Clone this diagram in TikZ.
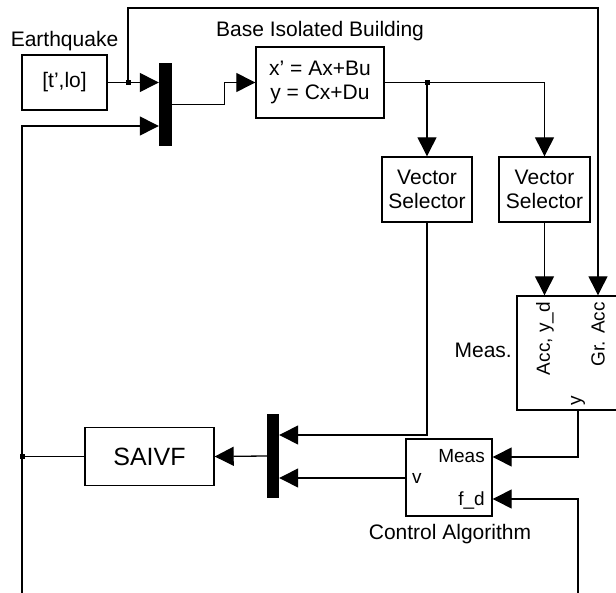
\documentclass[tikz,border=0pt]{standalone}
\usepackage{fontspec}
\setmainfont{Liberation Sans}
\usetikzlibrary{positioning,arrows.meta,calc}

\begin{document}
\begin{tikzpicture}[
  x=1pt, y=-1pt,
  font=\fontsize{21}{24}\selectfont,
  blk/.style={draw, line width=1.4pt, inner sep=0pt, align=center},
  muxbar/.style={fill=black, draw=none, inner sep=0pt, minimum width=13pt, minimum height=83pt},
  port/.style={font=\fontsize{19}{22}\selectfont, inner sep=0pt},
  lab/.style={inner sep=0pt},
  arr/.style={-{Triangle[length=19pt, width=19pt]}, line width=1.3pt},
  wire/.style={line width=1.3pt},
  dot/.style={fill=black, inner sep=0pt, minimum size=5pt}
]
\useasboundingbox (0,0) rectangle (616,593);
% ----- top row: source, mux, plant -----
\node[blk, minimum width=85pt, minimum height=55pt] (quake) at (64.5,82.5) {[t',lo]};
\node[lab, anchor=base] (quakelab) at (64.5,47) {Earthquake};
\node[muxbar] (mux1) at (165.5,104.5) {};
\node[blk, minimum width=128pt, minimum height=71pt] (bldg) at (320,82.5) {x' = Ax+Bu\\y = Cx+Du};
\node[lab, anchor=base] (bldglab) at (320,37) {Base Isolated Building};
% ----- selectors and measurement block -----
\node[blk, minimum width=90pt, minimum height=65pt] (vsel1) at (427,189.5) {Vector\\Selector};
\node[blk, minimum width=91pt, minimum height=65pt] (vsel2) at (544.5,189.5) {Vector\\Selector};
\node[blk, minimum width=113pt, minimum height=114pt] (meas) at (573.5,353) {};
\node[lab, anchor=base east] (measlab) at (512,358) {Meas.};
\node[port, rotate=90, anchor=east] (pacclab) at (545,302) {Acc, y\_d};
\node[port, rotate=90, anchor=east] (pgrlab) at (598,302) {Gr. Acc};
\node[port, rotate=90, anchor=west] (pylab) at (578,406) {y};
% ----- controller, mux, damper -----
\node[blk, minimum width=86pt, minimum height=77pt] (ctrl) at (449,477.5) {};
\node[port, anchor=base east] (pmeaslab) at (485,463) {Meas};
\node[port, anchor=base east] (pfdlab) at (485,505) {f\_d};
\node[port, anchor=base west] (pvlab) at (412,483) {v};
\node[lab, anchor=base] (ctrllab) at (450,539) {Control Algorithm};
\node[muxbar, minimum width=12pt, minimum height=84pt] (mux2) at (273,456) {};
\node[blk, minimum width=129pt, minimum height=58pt, font=\fontsize{25}{28}\selectfont] (saivf) at (149.5,456.5) {SAIVF};
% ----- branch points and loose ends -----
\coordinate (j1) at (128,82.5);
\coordinate (j2) at (427,82.5);
\coordinate (j3) at (22,456.5);
\coordinate (topR) at (598,8);
\coordinate (py) at (578,410);
\coordinate (botL) at (22,593);
\coordinate (botR) at (578,593);
\foreach \j in {j1,j2,j3}{\node[dot] (dot\j) at (\j) {};}
% ----- wires -----
\draw[wire] (quake.east) -- (j1);
\draw[arr] (j1) -- (j1 -| mux1.west);
\draw[arr] (j1) |- (topR) -- (topR |- meas.north);
\draw[arr] (mux1.east) -- ++(52,0) |- (bldg.west);
\draw[wire] (bldg.east) -- (j2);
\draw[arr] (j2) -- (vsel1.north);
\draw[arr] (j2) -| (vsel2.north);
\draw[arr] (vsel2.south) -- (vsel2.south |- meas.north);
\draw[arr] (vsel1.south) |- (mux2.east |- 0,435);
\draw[arr] (py) |- (ctrl.east |- 0,457);
\draw[arr] (botR) |- (ctrl.east |- 0,499);
\draw[arr] (ctrl.west |- 0,478) -- (mux2.east |- 0,478);
\draw[arr] (mux2.west) -- (saivf.east);
\draw[wire] (saivf.west) -- (j3);
\draw[arr] (botL) |- (mux1.west |- 0,126);
\end{tikzpicture}
\end{document}
